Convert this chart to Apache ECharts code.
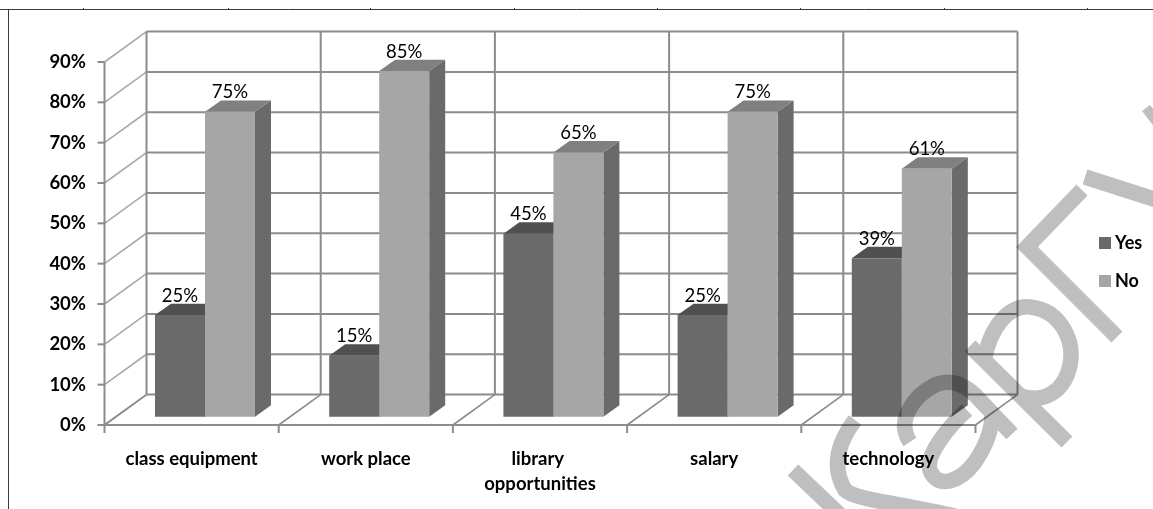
<!DOCTYPE html>
<html>
<head>
<meta charset="utf-8">
<style>html,body{margin:0;padding:0;background:#fff}#c{width:1153px;height:509px}</style>
<script src="https://cdn.jsdelivr.net/npm/echarts@6/dist/echarts.min.js"></script>
</head>
<body>
<div id="c"></div>
<script>
var categories = ['class equipment', 'work place', 'library opportunities', 'salary', 'technology'];
var yesValues = [25, 15, 45, 25, 39];
var noValues = [75, 85, 65, 75, 61];
var yTicks = [0, 10, 20, 30, 40, 50, 60, 70, 80, 90];
var gridIndex = [0, 1, 2, 3, 4, 5];

var GRID = '#8c8c8c', SIDE = '#a9a9a9';
var wallDx = 42, wallDy = -30.4;
var barDx = 16, barDy = -11.4, barFrontDx = 11.5, barFrontDy = -8.3, barScale = 1.008;
var barOffset = 39 / 174.2, barW = 50 / 174.2;

function line(x1, y1, x2, y2, color, w) {
  return { type: 'line', shape: { x1: x1, y1: y1, x2: x2, y2: y2 }, style: { stroke: color, lineWidth: w } };
}
function poly(pts, fill) {
  return { type: 'polygon', shape: { points: pts }, style: { fill: fill, stroke: null } };
}
function hWall(params, api) {
  var band = api.size([1, 0])[0];
  var p0 = api.coord([0, api.value(0)]);
  var x0 = p0[0] - band / 2, y = p0[1];
  var x1 = x0 + band * categories.length;
  var kids = [
    line(x0, y, x0 + wallDx, y + wallDy, SIDE, 1.6),
    line(x0 + wallDx, y + wallDy, x1 + wallDx, y + wallDy, GRID, 2),
    line(x0 - 7, y, x0, y, GRID, 2)
  ];
  if (api.value(0) === 0) kids.push(line(x0, y, x1, y, GRID, 2));
  return { type: 'group', children: kids };
}
function vWall(params, api) {
  var band = api.size([1, 0])[0];
  var b = api.coord([0, 0]), t = api.coord([0, yTicks[yTicks.length - 1]]);
  var x = b[0] - band / 2 + band * api.value(0);
  var kids = [
    line(x, b[1], x + wallDx, b[1] + wallDy, GRID, 1.6),
    line(x + wallDx, b[1] + wallDy, x + wallDx, t[1] + wallDy, GRID, 2),
    line(x, b[1], x, b[1] + 8, GRID, 2)
  ];
  if (api.value(0) === 0) kids.push(line(x, b[1], x, t[1], GRID, 2));
  return { type: 'group', children: kids };
}
function bar3d(slot, front, top, side) {
  return function (params, api) {
    var band = api.size([1, 0])[0];
    var val = api.value(1);
    var c = api.coord([api.value(0), val]), b = api.coord([api.value(0), 0]);
    var w = band * barW;
    var xl = c[0] - band / 2 + band * barOffset + slot * w + barFrontDx;
    var xr = xl + w;
    var yb = b[1] + barFrontDy, yt = yb - (b[1] - c[1]) * barScale;
    return { type: 'group', children: [
      poly([[xr, yt], [xr + barDx, yt + barDy], [xr + barDx, yb + barDy], [xr, yb]], side),
      poly([[xl, yt], [xr, yt], [xr + barDx, yt + barDy], [xl + barDx, yt + barDy]], top),
      poly([[xl, yt], [xr, yt], [xr, yb], [xl, yb]], front),
      { type: 'text', style: { text: val + '%', x: (xl + xr) / 2, y: yt - 19.5, align: 'center', verticalAlign: 'middle',
        fontFamily: 'Lato', fontSize: 18.5, fill: '#000' } }
    ] };
  };
}
function wm(d, w) {
  return { type: 'path', shape: { pathData: d },
    style: { fill: 'none', stroke: 'rgba(0,0,0,0.25)', lineWidth: w, lineCap: 'butt', lineJoin: 'miter' } };
}
function watermark() {
  return { type: 'group', children: [
    wm('M1082 190 L1027 247 L1117 337 M1085 177 L1160 201 ' +
       'M970 346 L1067 442 M984 362 C990 325 1010 305 1030 307 C1060 310 1075 340 1070 365 C1065 390 1045 405 1018 395 ' +
       'M910 442 C895 420 915 395 935 385 C950 378 965 385 975 395 L1012 434 ' +
       'M967 410 C950 425 925 455 930 470 C937 490 960 482 975 462 C985 447 992 430 992 415 ' +
       'M793 470 L880 553 M855 420 C840 440 830 465 845 490 C855 500 900 503 955 516', 15.5),
    wm('M1146 108 L1160 126', 10)
  ] };
}
function frameLine(x1, y1, x2, y2) {
  return { type: 'line', z: 90, shape: { x1: x1, y1: y1, x2: x2, y2: y2 }, style: { stroke: '#3a3a3a', lineWidth: 1 }, silent: true };
}
var pageTicks = [83, 228, 370, 514, 657, 800, 944, 1087];
var graphics = [frameLine(0, 9.5, 1153, 9.5), frameLine(8.5, 9.5, 8.5, 509)];
pageTicks.forEach(function (x) { graphics.push(frameLine(x + 0.5, 8, x + 0.5, 10)); });

var option = {
  animation: false,
  backgroundColor: '#fff',
  grid: { left: 104.5, top: 62, width: 871, height: 363 },
  legend: {
    orient: 'vertical', left: 1094, top: 229, itemWidth: 12, itemHeight: 12, itemGap: 20,
    icon: 'rect', data: ['Yes', 'No'],
    textStyle: { fontFamily: 'Lato', fontWeight: 'bold', fontSize: 18, color: '#000', padding: [0, 0, 0, -1] }
  },
  xAxis: {
    type: 'category', data: categories,
    axisLine: { show: false },
    axisTick: { show: false },
    axisLabel: { interval: 0, margin: 21.5, width: 150, overflow: 'break', lineHeight: 25,
      fontFamily: 'Lato', fontWeight: 'bold', fontSize: 18.5, color: '#000' },
    splitLine: { show: false }
  },
  yAxis: {
    type: 'value', min: 0, max: 90, interval: 10,
    axisLine: { show: false },
    axisTick: { show: false },
    axisLabel: { margin: 18.5, formatter: '{value}%', fontFamily: 'Lato', fontWeight: 'bold', fontSize: 18.5, color: '#000' },
    splitLine: { show: false }
  },
  graphic: { elements: graphics },
  series: [
    { type: 'custom', name: 'wallH', data: yTicks.map(function (v) { return [v]; }), renderItem: hWall, silent: true, z: 1, clip: false, encode: { y: 0 } },
    { type: 'custom', name: 'wallV', data: gridIndex.map(function (v) { return [v]; }), renderItem: vWall, silent: true, z: 1, clip: false },
    { type: 'custom', name: 'Yes', itemStyle: { color: '#6a6a6a' }, data: yesValues.map(function (v, i) { return [i, v]; }),
      renderItem: bar3d(0, '#6a6a6a', '#505050', '#505050'), z: 2, clip: false, encode: { x: 0, y: 1 } },
    { type: 'custom', name: 'No', itemStyle: { color: '#a6a6a6' }, data: noValues.map(function (v, i) { return [i, v]; }),
      renderItem: bar3d(1, '#a6a6a6', '#808080', '#6a6a6a'), z: 3, clip: false, encode: { x: 0, y: 1 } },
    { type: 'custom', name: 'watermark', coordinateSystem: 'none', data: [[0]], renderItem: watermark, silent: true, z: 100, clip: false }
  ]
};
echarts.init(document.getElementById('c')).setOption(option);
</script>
</body>
</html>
